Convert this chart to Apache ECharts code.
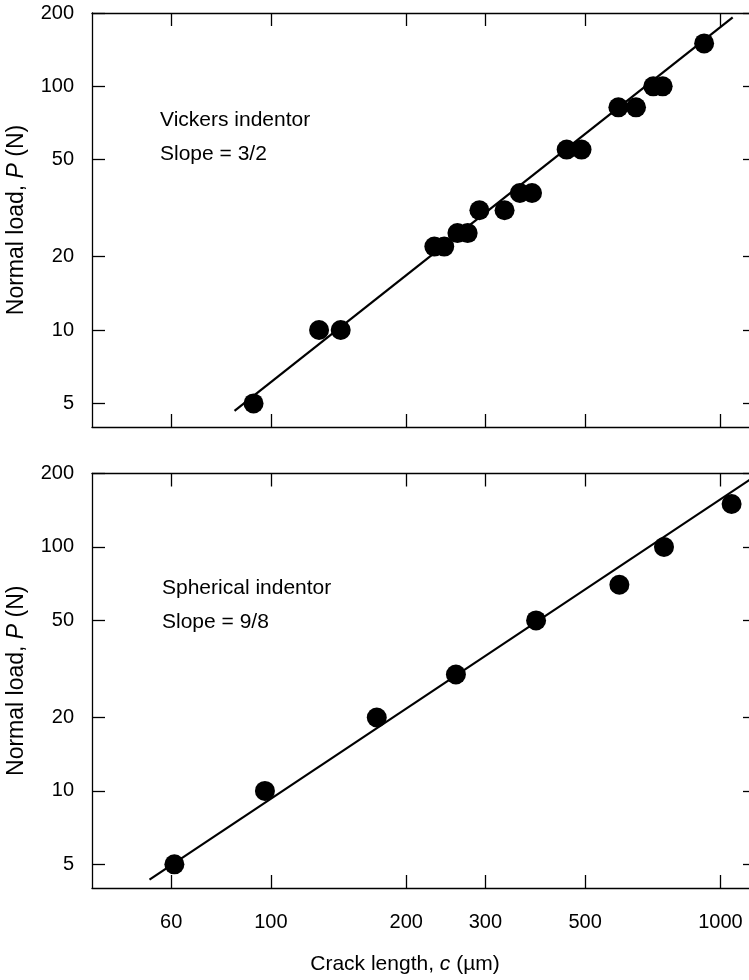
<!DOCTYPE html>
<html>
<head>
<meta charset="utf-8">
<script src="https://cdn.jsdelivr.net/npm/echarts@6/dist/echarts.min.js"></script>
<style>
  html, body { margin: 0; padding: 0; background: #fff; }
  #chart { width: 749px; height: 980px; }
</style>
</head>
<body>
<div id="chart"></div>
<script>
// Vickers indentation: crack length c (µm) vs normal load P (N)
const vickersCrack = [91.5, 128, 143, 231, 243, 260, 274, 291, 331, 358, 381, 455, 491, 593, 649, 709, 744, 920];
const vickersLoad  = [5, 10, 10, 22, 22, 25, 25, 31, 31, 36.5, 36.5, 55, 55, 82, 82, 100, 100, 150];
// fitted line end points (slope = 3/2)
const vickersFitCrack = [83, 1065];
const vickersFitLoad  = [4.66, 192];

// Spherical indentation
const sphereCrack = [61, 97, 172, 258, 389, 596, 749, 1059];
const sphereLoad  = [5, 10, 20, 30, 50, 70, 100, 150];
// fitted line end points (slope = 9/8)
const sphereFitCrack = [53.7, 1200];
const sphereFitLoad  = [4.33, 196];

// axis tick values
const crackTicks = [60, 100, 200, 300, 500, 1000];
const loadTicks  = [5, 10, 20, 50, 100, 200];

const FONT = '"Liberation Sans", Arial, Helvetica, sans-serif';
const INK = '#000';

const pairs = (xs, ys) => xs.map((x, i) => [x, ys[i]]);
const plain = (v) => String(Math.round(v));

const frameLine = { show: true, lineStyle: { color: INK, width: 1.3 } };
const innerTick = (vals) => ({
  show: true, inside: true, length: 13, customValues: vals,
  lineStyle: { color: INK, width: 1.3 }
});

function crackAxes(gridIndex, showLabels) {
  const common = {
    type: 'log', logBase: 10, gridIndex, min: 40, max: 1200,
    axisLine: frameLine, splitLine: { show: false },
    minorTick: { show: false }, minorSplitLine: { show: false },
    axisTick: innerTick(crackTicks)
  };
  const bottom = Object.assign({}, common, {
    position: 'bottom',
    axisLabel: {
      show: showLabels, customValues: crackTicks, margin: 24, formatter: plain,
      color: INK, fontSize: 20, fontFamily: FONT
    }
  });
  if (showLabels) {
    Object.assign(bottom, {
      name: '{a|Crack length, }{b|c}{a| (µm)}',
      nameLocation: 'middle', nameGap: 66,
      nameTextStyle: {
        padding: [0, 38, 0, 0],
        rich: {
          a: { fontSize: 21, fontFamily: FONT, color: INK },
          b: { fontSize: 21, fontFamily: FONT, color: INK, fontStyle: 'italic' }
        }
      }
    });
  }
  const top = Object.assign({}, common, {
    position: 'top', axisLabel: { show: false }
  });
  return [bottom, top];
}

function loadAxes(gridIndex) {
  const common = {
    type: 'log', logBase: 10, gridIndex, min: 4, max: 200,
    axisLine: frameLine, splitLine: { show: false },
    minorTick: { show: false }, minorSplitLine: { show: false },
    axisTick: innerTick(loadTicks)
  };
  const left = Object.assign({}, common, {
    position: 'left',
    axisLabel: { customValues: loadTicks, margin: 18, formatter: plain, color: INK, fontSize: 20, fontFamily: FONT },
    name: '{a|Normal load, }{b|P}{a| (N)}',
    nameLocation: 'middle', nameGap: 64,
    nameTextStyle: {
      rich: {
        a: { fontSize: 23, fontFamily: FONT, color: INK },
        b: { fontSize: 23, fontFamily: FONT, color: INK, fontStyle: 'italic' }
      }
    }
  });
  const right = Object.assign({}, common, {
    position: 'right', axisLabel: { show: false }
  });
  return [left, right];
}

function panelSeries(axisIndex, crack, load, fitCrack, fitLoad) {
  return [
    {
      type: 'line', xAxisIndex: axisIndex, yAxisIndex: axisIndex,
      data: pairs(fitCrack, fitLoad), showSymbol: false, symbol: 'none',
      lineStyle: { color: INK, width: 2.2 }, silent: true, z: 2, animation: false
    },
    {
      type: 'scatter', xAxisIndex: axisIndex, yAxisIndex: axisIndex,
      data: pairs(crack, load), symbol: 'circle', symbolSize: 20,
      itemStyle: { color: INK, opacity: 1 }, z: 3, animation: false
    }
  ];
}

function note(x, y, text) {
  return {
    type: 'text', x, y,
    style: { text, fill: INK, fontSize: 21, fontFamily: FONT, verticalAlign: 'middle' }
  };
}

const chart = echarts.init(document.getElementById('chart'), null, { renderer: 'canvas' });
chart.setOption({
  backgroundColor: '#fff',
  animation: false,
  grid: [
    { left: 92, top: 13, width: 664, height: 414, outerBoundsMode: 'none', containLabel: false },
    { left: 92, top: 473.5, width: 664, height: 414.5, outerBoundsMode: 'none', containLabel: false }
  ],
  xAxis: [...crackAxes(0, false), ...crackAxes(1, true)],
  yAxis: [...loadAxes(0), ...loadAxes(1)],
  series: [
    ...panelSeries(0, vickersCrack, vickersLoad, vickersFitCrack, vickersFitLoad),
    ...panelSeries(2, sphereCrack, sphereLoad, sphereFitCrack, sphereFitLoad)
  ],
  graphic: [
    note(160, 120, 'Vickers indentor'),
    note(160, 154, 'Slope = 3/2'),
    note(162, 588, 'Spherical indentor'),
    note(162, 622, 'Slope = 9/8')
  ]
});
</script>
</body>
</html>
